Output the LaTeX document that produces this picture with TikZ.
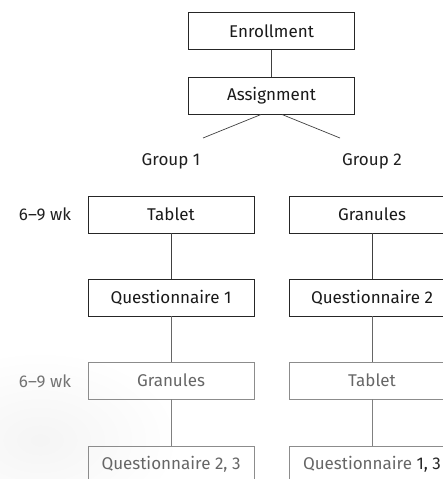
\documentclass[tikz,border=0pt]{standalone}
\usepackage{fontspec}
\setmainfont{Fira Sans}
\begin{document}
\begin{tikzpicture}[x=1pt,y=-1pt,
  box/.style={draw=#1, line width=0.8pt, minimum width=166pt, minimum height=37pt, inner sep=0pt, font=\fontsize{17}{20}\selectfont},
  box/.default=black!85,
  lbl/.style={font=\fontsize{17}{20}\selectfont, inner sep=0pt},
  conn/.style={draw=#1, line width=0.7pt},
  conn/.default=black!75]
\useasboundingbox (0,0) rectangle (443,479);
\shade[inner color=black!4, outer color=white, draw=none] (40,440) ellipse (140 and 90);
% top
\node[box, text=black!90] (enroll) at (271.5,31) {Enrollment};
\node[box, text=black!90] (assign) at (271.5,96) {Assignment};
\draw[conn] (enroll) -- (assign);
\coordinate (a1) at (261,114.5);
\coordinate (a2) at (282,114.5);
\coordinate (d1) at (203,138);
\coordinate (d2) at (340,138);
\draw[conn] (a1) -- (d1);
\draw[conn] (a2) -- (d2);
\node[lbl, text=black!88] (g1) at (171,161) {Group 1};
\node[lbl, text=black!88] (g2) at (372,161) {Group 2};
% left column
\node[lbl, text=black!88] (w1) at (45,214) {6–9 wk};
\node[box, text=black!90] (tab1) at (171,214.5) {Tablet};
\node[box, text=black!90] (q1) at (171,297.5) {Questionnaire 1};
\node[box=black!45, text=black!60] (gr1) at (171,380.5) {Granules};
\node[box=black!45, text=black!60] (q23) at (171,464.5) {Questionnaire 2, 3};
\node[lbl, text=black!55] (w2) at (45,381) {6–9 wk};
\draw[conn] (tab1) -- (q1);
\draw[conn=black!60] (q1) -- (gr1);
\draw[conn=black!50] (gr1) -- (q23);
% right column
\node[box, text=black!90] (gr2) at (372,214.5) {Granules};
\node[box, text=black!90] (q2) at (372,297.5) {Questionnaire 2};
\node[box=black!45, text=black!60] (tab2) at (372,380.5) {Tablet};
\node[box=black!45, text=black!60] (q13) at (372,464.5) {Questionnaire {\color{black!85}1, 3}};
\draw[conn] (gr2) -- (q2);
\draw[conn=black!60] (q2) -- (tab2);
\draw[conn=black!50] (tab2) -- (q13);
\end{tikzpicture}
\end{document}
